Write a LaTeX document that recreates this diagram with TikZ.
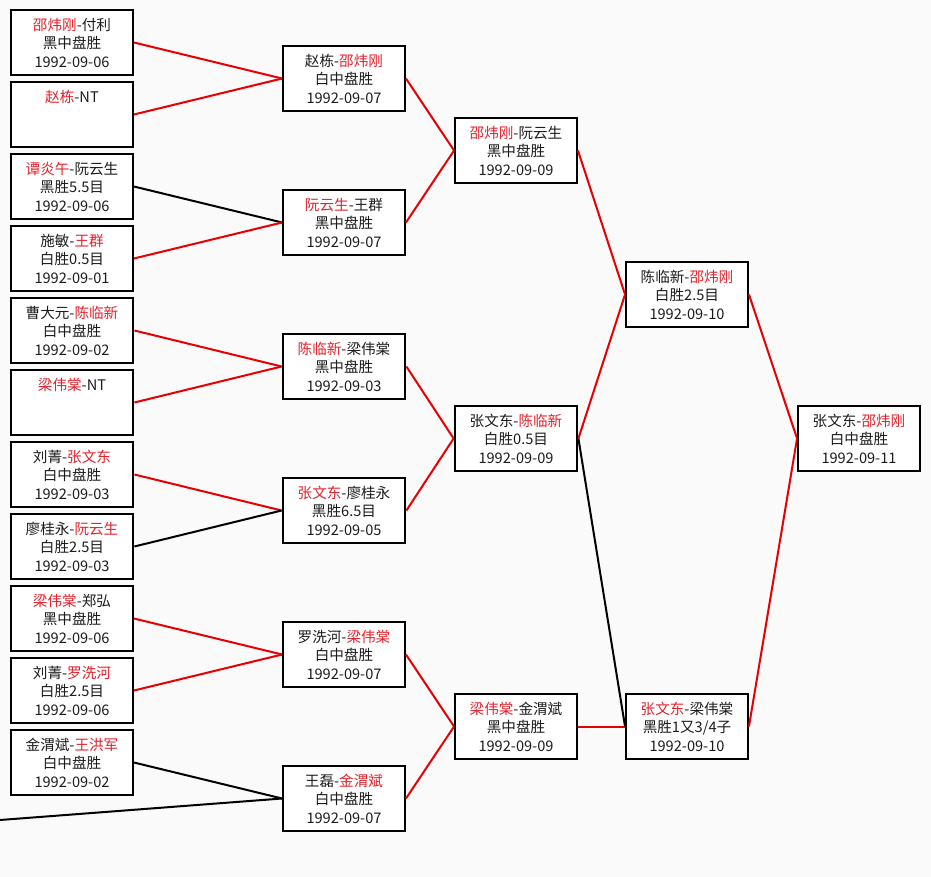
\documentclass[tikz,border=0pt]{standalone}
\usepackage{fontspec}
\usepackage{xcolor}
\newfontfamily\cjk{Noto Sans CJK SC}
\definecolor{winred}{RGB}{226,34,44}
\definecolor{wireRed}{RGB}{232,0,0}
\definecolor{ink}{RGB}{28,28,28}
\definecolor{paper}{RGB}{250,250,250}
\newcommand{\wn}[1]{\textcolor{winred}{#1}}

\begin{document}
\begin{tikzpicture}[x=1pt,y=-1pt,font=\cjk\fontsize{14.6}{18.5}\selectfont,
  game/.style={draw=black,fill=white,text=ink,line width=1.9pt,align=center,
    minimum width=122pt,minimum height=65pt,inner sep=0pt},
  key/.style={game,line width=2.8pt},
  won/.style={draw=wireRed,line width=2pt},
  lost/.style={draw=black,line width=2pt}]
\fill[paper] (0,0) rectangle (931,877);
\useasboundingbox (0,0) rectangle (931,877);

% first round
\node[game] (a1)  at (72,42.5)  {\wn{邵炜刚}-付利\\黑中盘胜\\1992-09-06};
\node[game] (a2)  at (72,114.5) {\wn{赵栋}-NT\\~\\~};
\node[game] (a3)  at (72,186.5) {\wn{谭炎午}-阮云生\\黑胜5.5目\\1992-09-06};
\node[game] (a4)  at (72,258.5) {施敏-\wn{王群}\\白胜0.5目\\1992-09-01};
\node[key]  (a5)  at (72,330.5) {曹大元-\wn{陈临新}\\白中盘胜\\1992-09-02};
\node[key]  (a6)  at (72,402.5) {\wn{梁伟棠}-NT\\~\\~};
\node[key]  (a7)  at (72,474.5) {刘菁-\wn{张文东}\\白中盘胜\\1992-09-03};
\node[key]  (a8)  at (72,546.5) {廖桂永-\wn{阮云生}\\白胜2.5目\\1992-09-03};
\node[game] (a9)  at (72,618.5) {\wn{梁伟棠}-郑弘\\黑中盘胜\\1992-09-06};
\node[game] (a10) at (72,690.5) {刘菁-\wn{罗洗河}\\白胜2.5目\\1992-09-06};
\node[game] (a11) at (72,762.5) {金渭斌-\wn{王洪军}\\白中盘胜\\1992-09-02};
\coordinate (a12) at (0,820);

% second round
\node[game] (b1) at (344,78.5)  {赵栋-\wn{邵炜刚}\\白中盘胜\\1992-09-07};
\node[game] (b2) at (344,222.5) {\wn{阮云生}-王群\\黑中盘胜\\1992-09-07};
\node[key]  (b3) at (344,366.5) {\wn{陈临新}-梁伟棠\\黑中盘胜\\1992-09-03};
\node[key]  (b4) at (344,510.5) {\wn{张文东}-廖桂永\\黑胜6.5目\\1992-09-05};
\node[game] (b5) at (344,654.5) {罗洗河-\wn{梁伟棠}\\白中盘胜\\1992-09-07};
\node[game] (b6) at (344,798.5) {王磊-\wn{金渭斌}\\白中盘胜\\1992-09-07};

% third round
\node[game] (c1) at (516,150.5) {\wn{邵炜刚}-阮云生\\黑中盘胜\\1992-09-09};
\node[key]  (c2) at (516,438.5) {张文东-\wn{陈临新}\\白胜0.5目\\1992-09-09};
\node[game] (c3) at (516,726.5) {\wn{梁伟棠}-金渭斌\\黑中盘胜\\1992-09-09};

% semi and final
\node[game] (d1) at (687,294.5) {陈临新-\wn{邵炜刚}\\白胜2.5目\\1992-09-10};
\node[game] (d2) at (687,726.5) {\wn{张文东}-梁伟棠\\黑胜1又3/4子\\1992-09-10};
\node[game] (fin) at (859,438.5) {张文东-\wn{邵炜刚}\\白中盘胜\\1992-09-11};

% connectors
\draw[won]  (a1.east) -- (b1.west);
\draw[won]  (a2.east) -- (b1.west);
\draw[lost] (a3.east) -- (b2.west);
\draw[won]  (a4.east) -- (b2.west);
\draw[won]  (a5.east) -- (b3.west);
\draw[won]  (a6.east) -- (b3.west);
\draw[won]  (a7.east) -- (b4.west);
\draw[lost] (a8.east) -- (b4.west);
\draw[won]  (a9.east) -- (b5.west);
\draw[won]  (a10.east) -- (b5.west);
\draw[lost] (a11.east) -- (b6.west);
\draw[lost] (a12) -- (b6.west);
\draw[won]  (b1.east) -- (c1.west);
\draw[won]  (b2.east) -- (c1.west);
\draw[won]  (b3.east) -- (c2.west);
\draw[won]  (b4.east) -- (c2.west);
\draw[won]  (b5.east) -- (c3.west);
\draw[won]  (b6.east) -- (c3.west);
\draw[won]  (c1.east) -- (d1.west);
\draw[won]  (c2.east) -- (d1.west);
\draw[lost] (c2.east) -- (d2.west);
\draw[won]  (c3.east) -- (d2.west);
\draw[won]  (d1.east) -- (fin.west);
\draw[won]  (d2.east) -- (fin.west);
\end{tikzpicture}
\end{document}
